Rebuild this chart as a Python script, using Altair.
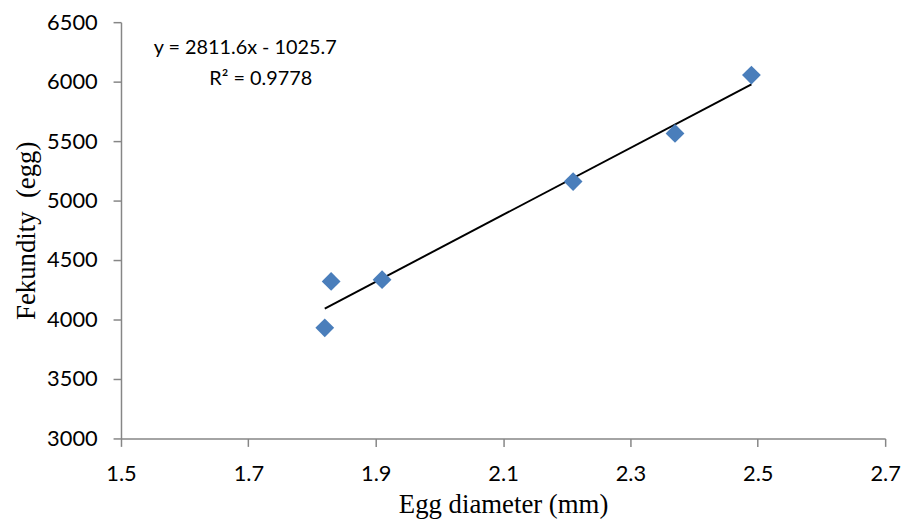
import altair as alt
import pandas as pd

egg_diameter = [1.82, 1.83, 1.91, 2.21, 2.37, 2.49]
fekundity = [3930, 4320, 4335, 5160, 5565, 6055]

eq_lines = ["y = 2811.6x - 1025.7", "R² = 0.9778"]
eq_x = [1.695, 1.7195]
eq_y = [6283, 6025]

x_ticks = [1.5, 1.7, 1.9, 2.1, 2.3, 2.5, 2.7]
y_ticks = [3000, 3500, 4000, 4500, 5000, 5500, 6000, 6500]

df = pd.DataFrame({"x": egg_diameter, "y": fekundity})
ann = pd.DataFrame({"x": eq_x, "y": eq_y, "t": eq_lines})

xs = alt.Scale(domain=[1.5, 2.7], nice=False, zero=False)
ys = alt.Scale(domain=[3000, 6500], nice=False, zero=False)

x_axis = alt.Axis(values=x_ticks, format=".1f", title="Egg diameter (mm)",
                  labelPadding=17, titlePadding=8, labelFlush=False)
y_axis = alt.Axis(values=y_ticks, format="d", title="Fekundity\u00a0\u00a0(egg)",
                  labelPadding=16, titlePadding=6, labelFlush=False)

X = alt.X("x:Q", scale=xs, axis=x_axis)
Y = alt.Y("y:Q", scale=ys, axis=y_axis)

base = alt.Chart(df)

trend = base.transform_regression("x", "y").mark_line(color="#000000", strokeWidth=2).encode(
    x=X, y=Y,
)

points = base.mark_point(shape="diamond", filled=True, size=360, color="#4a7ebb", opacity=1).encode(
    x=X, y=Y,
)

text = alt.Chart(ann).mark_text(font="Lato", fontSize=20, color="#000000", align="center",
                                baseline="middle").encode(
    x=X, y=Y, text="t:N",
)

chart = alt.layer(trend, points, text).properties(
    width=771, height=420,
    autosize=alt.AutoSizeParams(type="none"),
    padding={"left": 114, "top": 12, "right": 18, "bottom": 83},
).configure_view(stroke=None).configure_axis(
    grid=False, domainColor="#868686", domainWidth=1.5, tickColor="#868686", tickWidth=1.5,
    tickSize=8, labelFont="Lato", labelFontSize=22, labelColor="#000000",
    titleFont="Liberation Serif", titleFontSize=27, titleFontWeight="normal",
    titleColor="#000000",
)

chart.save("out.html", embed_options={"renderer": "svg", "actions": False})
